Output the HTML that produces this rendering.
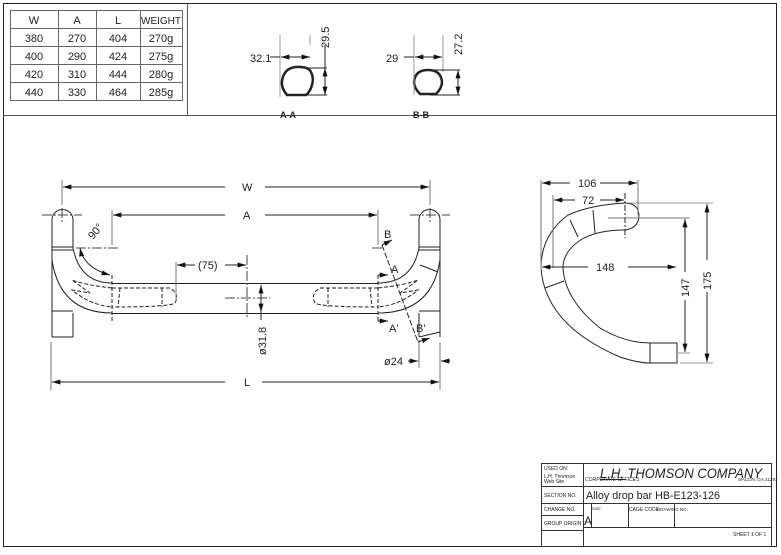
<!DOCTYPE html>
<html><head><style>
html,body{margin:0;padding:0;background:#fff}
svg{display:block}
text{font-family:"Liberation Sans","DejaVu Sans",sans-serif;fill:#222}
</style></head><body>
<svg width="781" height="555" viewBox="0 0 781 555" xmlns="http://www.w3.org/2000/svg">
<defs>
<marker id="ar" viewBox="0 0 10 6" refX="10" refY="3" markerWidth="9" markerHeight="5" orient="auto-start-reverse" markerUnits="userSpaceOnUse"><path d="M0,0 L10,3 L0,6 z" fill="#111"/></marker>
</defs>
<g fill="none" stroke="#222" stroke-width="1">
<rect x="3.5" y="3.5" width="773" height="543"/>
<line x1="3" y1="115.5" x2="777" y2="115.5" stroke="#555"/>
<line x1="187.5" y1="3" x2="187.5" y2="115" stroke="#555"/>
<g stroke="#666">
<rect x="10.5" y="10.5" width="172" height="90"/>
<line x1="10" y1="28.5" x2="183" y2="28.5"/>
<line x1="10" y1="46.5" x2="183" y2="46.5"/>
<line x1="10" y1="64.5" x2="183" y2="64.5"/>
<line x1="10" y1="82.5" x2="183" y2="82.5"/>
<line x1="58.5" y1="10" x2="58.5" y2="100"/>
<line x1="96.5" y1="10" x2="96.5" y2="100"/>
<line x1="140.5" y1="10" x2="140.5" y2="100"/>
</g>
</g>
<g font-size="11" text-anchor="middle" fill="#333">
<text x="34" y="24">W</text><text x="77" y="24">A</text><text x="118" y="24">L</text><text x="161" y="24" font-size="10">WEIGHT</text>
<text x="34" y="42">380</text><text x="77" y="42">270</text><text x="118" y="42">404</text><text x="161" y="42">270g</text>
<text x="34" y="60">400</text><text x="77" y="60">290</text><text x="118" y="60">424</text><text x="161" y="60">275g</text>
<text x="34" y="78">420</text><text x="77" y="78">310</text><text x="118" y="78">444</text><text x="161" y="78">280g</text>
<text x="34" y="96">440</text><text x="77" y="96">330</text><text x="118" y="96">464</text><text x="161" y="96">285g</text>
</g>

<!-- sections -->
<g fill="none" stroke="#222">
<path d="M287,95 Q281,88 282,81 Q284,68 296,67 Q308,66 311,72 Q314,78 312,85 Q310,92 306,95 Z" stroke-width="2.5"/>
<line x1="280" y1="35" x2="280" y2="97" stroke="#999"/>
<line x1="310" y1="35" x2="310" y2="45" stroke="#999"/>
<line x1="281" y1="57" x2="310" y2="57" marker-start="url(#ar)" marker-end="url(#ar)"/>
<line x1="270" y1="57" x2="280" y2="57"/>
<line x1="300" y1="68" x2="327" y2="68"/><line x1="300" y1="95" x2="327" y2="95"/>
<line x1="325" y1="68" x2="325" y2="95" marker-start="url(#ar)" marker-end="url(#ar)"/>
<line x1="325" y1="45" x2="325" y2="68"/>
<path d="M420,94 Q414,88 414,82 Q415,70 428,70 Q441,70 442,82 Q442,88 436,94 Z" stroke-width="2.5"/>
<line x1="414" y1="35" x2="414" y2="95" stroke="#999"/>
<line x1="443" y1="35" x2="443" y2="72" stroke="#999"/>
<line x1="415" y1="57" x2="442" y2="57" marker-start="url(#ar)" marker-end="url(#ar)"/>
<line x1="404" y1="57" x2="414" y2="57"/>
<line x1="430" y1="70" x2="460" y2="70"/><line x1="430" y1="95" x2="460" y2="95"/>
<line x1="458" y1="70" x2="458" y2="95" marker-start="url(#ar)" marker-end="url(#ar)"/>
</g>
<g font-size="11" fill="#333">
<text x="250" y="62">32.1</text>
<text x="386" y="62">29</text>
<text transform="translate(329,48) rotate(-90)">29.5</text>
<text transform="translate(462,55) rotate(-90)">27.2</text>
<text x="280" y="118" font-size="9" font-weight="bold">A-A</text>
<text x="413" y="118" font-size="9" font-weight="bold">B-B</text>
</g>

<!-- front view -->
<g fill="none" stroke="#222">
<path d="M52,337 L52,220 A10.5,10.5 0 0 1 73,220 L73,248 Q80,283 112,283"/>
<path d="M52,260 Q60,313 112,313"/>
<line x1="52" y1="337" x2="73" y2="337"/><line x1="73" y1="313" x2="73" y2="337"/>
<line x1="52" y1="247" x2="73" y2="247"/><line x1="52" y1="250" x2="73" y2="250"/>
<line x1="52" y1="311" x2="73" y2="311"/>
<path d="M440,337 L440,220 A10.5,10.5 0 0 0 419,220 L419,248 Q412,283 378,283"/>
<path d="M440,260 Q432,313 378,313"/>
<line x1="419" y1="313" x2="419" y2="337"/><line x1="419" y1="337" x2="440" y2="332"/>
<line x1="419" y1="247" x2="440" y2="247"/><line x1="419" y1="250" x2="440" y2="250"/>
<line x1="419" y1="311" x2="440" y2="311"/>
<line x1="420" y1="265" x2="438" y2="272"/>
<line x1="112" y1="283.5" x2="378" y2="283.5"/>
<line x1="112" y1="313.5" x2="378" y2="313.5"/>
<g stroke-dasharray="4,2">
<path d="M112,288 L170,288 Q180,294 175,303 Q170,307 112,307"/>
<path d="M112,288 Q85,285 72,280 L90,293 L72,290 Q90,305 112,307"/>
<line x1="120" y1="288" x2="118" y2="307"/><line x1="162" y1="288" x2="162" y2="307"/>
<path d="M378,288 L320,288 Q310,294 315,303 Q320,307 378,307"/>
<path d="M378,288 Q405,285 418,280 L400,293 L418,290 Q400,305 378,307"/>
<line x1="370" y1="288" x2="372" y2="307"/><line x1="328" y1="288" x2="328" y2="307"/>
<line x1="112" y1="275" x2="112" y2="322"/><line x1="378" y1="275" x2="378" y2="322"/>
</g>
<g stroke-dasharray="10,2,2,2" stroke="#444">
<line x1="42" y1="215" x2="82" y2="215"/><line x1="62" y1="208" x2="62" y2="222"/>
<line x1="410" y1="215" x2="450" y2="215"/><line x1="430" y1="208" x2="430" y2="222"/>
<line x1="76" y1="248" x2="118" y2="248"/><line x1="372" y1="248" x2="384" y2="248"/>
<line x1="225" y1="298" x2="270" y2="298"/><line x1="247" y1="255" x2="247" y2="318"/>
</g>
<line x1="62" y1="180" x2="62" y2="205" stroke="#777"/><line x1="430" y1="180" x2="430" y2="205" stroke="#777"/>
<line x1="63" y1="187" x2="225" y2="187" marker-start="url(#ar)"/><line x1="265" y1="187" x2="429" y2="187" marker-end="url(#ar)"/>
<line x1="112" y1="210" x2="112" y2="245" stroke="#777"/><line x1="378" y1="210" x2="378" y2="245" stroke="#777"/>
<line x1="113" y1="215" x2="225" y2="215" marker-start="url(#ar)"/><line x1="265" y1="215" x2="377" y2="215" marker-end="url(#ar)"/>
<line x1="176" y1="262" x2="176" y2="300" stroke="#777"/>
<line x1="177" y1="265" x2="195" y2="265" marker-start="url(#ar)"/><line x1="225" y1="265" x2="246" y2="265" marker-end="url(#ar)"/>
<line x1="261" y1="285" x2="261" y2="312" marker-start="url(#ar)" marker-end="url(#ar)"/>
<line x1="261" y1="312" x2="261" y2="320"/>
<line x1="51" y1="342" x2="51" y2="390" stroke="#777"/><line x1="440" y1="342" x2="440" y2="390" stroke="#777"/>
<line x1="52" y1="382" x2="225" y2="382" marker-start="url(#ar)"/><line x1="262" y1="382" x2="439" y2="382" marker-end="url(#ar)"/>
<line x1="419" y1="340" x2="419" y2="368" stroke="#777"/>
<line x1="408" y1="361" x2="418" y2="361" marker-end="url(#ar)"/><line x1="441" y1="361" x2="450" y2="361" marker-start="url(#ar)"/>
<path d="M80,248 Q84,268 110,275" marker-start="url(#ar)" marker-end="url(#ar)"/>
<line x1="382" y1="245" x2="418" y2="342" stroke-dasharray="6,2"/>
<line x1="382" y1="245" x2="392" y2="240" marker-end="url(#ar)"/>
<line x1="418" y1="342" x2="430" y2="338" marker-end="url(#ar)"/>
<line x1="378" y1="275" x2="388" y2="275" marker-end="url(#ar)"/>
<line x1="378" y1="321" x2="388" y2="321" marker-end="url(#ar)"/>
</g>
<g font-size="11" fill="#333">
<text x="242" y="191">W</text>
<text x="243" y="219">A</text>
<text x="198" y="269">(75)</text>
<text transform="translate(266,355) rotate(-90)">ø31.8</text>
<text x="244" y="386">L</text>
<text x="384" y="365">ø24</text>
<text transform="translate(93,240) rotate(-50)">90°</text>
<text x="384" y="238">B</text>
<text x="391" y="273">A</text>
<text x="389" y="332">A'</text>
<text x="416" y="332">B'</text>
</g>

<!-- side view -->
<g fill="none" stroke="#222">
<path d="M625,203 Q590,205 568,215 Q541,235 541,268 Q545,325 620,357 Q638,363 650,363"/>
<path d="M625,230 Q600,230 584,238 Q563,250 563,268 Q565,300 600,328 Q625,343 650,343"/>
<path d="M625,203 Q638,203 639,215 Q639,228 625,230"/>
<rect x="650" y="343" width="27" height="20"/>
<line x1="570" y1="220" x2="578" y2="237"/><line x1="593" y1="210" x2="595" y2="233"/>
<line x1="545" y1="288" x2="564" y2="281"/>
<line x1="625" y1="193" x2="625" y2="238" stroke-dasharray="6,2,2,2"/>
<line x1="608" y1="218" x2="690" y2="218" stroke="#777"/>
<line x1="630" y1="203" x2="713" y2="203" stroke="#999"/>
<line x1="677" y1="353" x2="690" y2="353" stroke="#999"/>
<line x1="680" y1="363" x2="713" y2="363" stroke="#999"/>
<line x1="541" y1="180" x2="541" y2="270" stroke="#777"/>
<line x1="638" y1="180" x2="638" y2="215" stroke="#777"/>
<line x1="553" y1="195" x2="553" y2="268" stroke="#777"/>
<line x1="542" y1="183" x2="570" y2="183" marker-start="url(#ar)"/><line x1="600" y1="183" x2="637" y2="183" marker-end="url(#ar)"/>
<line x1="554" y1="200" x2="575" y2="200" marker-start="url(#ar)"/><line x1="600" y1="200" x2="624" y2="200" marker-end="url(#ar)"/>
<line x1="542" y1="267" x2="588" y2="267" marker-start="url(#ar)"/><line x1="628" y1="267" x2="676" y2="267" marker-end="url(#ar)"/>
<line x1="685" y1="219" x2="685" y2="272" marker-start="url(#ar)"/><line x1="685" y1="300" x2="685" y2="352" marker-end="url(#ar)"/>
<line x1="707" y1="204" x2="707" y2="260" marker-start="url(#ar)"/><line x1="707" y1="292" x2="707" y2="362" marker-end="url(#ar)"/>
</g>
<g font-size="11" fill="#333">
<text x="578" y="187">106</text>
<text x="582" y="204">72</text>
<text x="596" y="271">148</text>
<text transform="translate(689,297) rotate(-90)">147</text>
<text transform="translate(711,290) rotate(-90)">175</text>
</g>

<!-- title block -->
<g fill="none" stroke="#333">
<rect x="541.5" y="463.5" width="230" height="83"/>
<line x1="583.5" y1="463" x2="583.5" y2="547"/>
<line x1="541" y1="486.5" x2="772" y2="486.5"/>
<line x1="541" y1="503.5" x2="772" y2="503.5"/>
<line x1="541" y1="515.5" x2="583" y2="515.5"/>
<line x1="541" y1="530.5" x2="583" y2="530.5"/>
<line x1="583" y1="527.5" x2="772" y2="527.5"/>
<line x1="591.5" y1="503" x2="591.5" y2="527"/>
<line x1="628.5" y1="503" x2="628.5" y2="527"/>
<line x1="674.5" y1="503" x2="674.5" y2="527"/>
<line x1="600" y1="479.5" x2="625" y2="479.5" stroke="#222"/>
</g>
<g fill="#222" font-size="5">
<text x="544" y="470">USED ON:</text>
<text x="544" y="478">L.H. Thomson</text>
<text x="544" y="483">Web Site</text>
<text x="544" y="497">SECTION NO.</text>
<text x="544" y="511">CHANGE NO.</text>
<text x="544" y="525">GROUP ORIGIN</text>
<text x="585" y="481" font-family="Liberation Serif,serif" font-style="italic">CORPORATE OFFICES</text>
<text x="738" y="481" font-family="Liberation Serif,serif" font-style="italic" font-size="4.5">MACON, GA 31297</text>
<text x="629" y="511">CAGE CODE</text>
<text x="657" y="511" font-size="4.5">DRAWING NO.</text>
<text x="592" y="510" font-size="4">SIZE</text>
<text x="733" y="536">SHEET 1 OF 1</text>
</g>
<text x="600" y="478" font-family="Liberation Serif,serif" font-style="italic" font-size="14" fill="#222" textLength="162" lengthAdjust="spacingAndGlyphs">L.H. THOMSON COMPANY</text>
<text x="586" y="499" font-size="11" fill="#222" textLength="134" lengthAdjust="spacingAndGlyphs">Alloy drop bar HB-E123-126</text>
<text x="584" y="525" font-size="12" fill="#222">A</text>
</svg>
</body></html>
